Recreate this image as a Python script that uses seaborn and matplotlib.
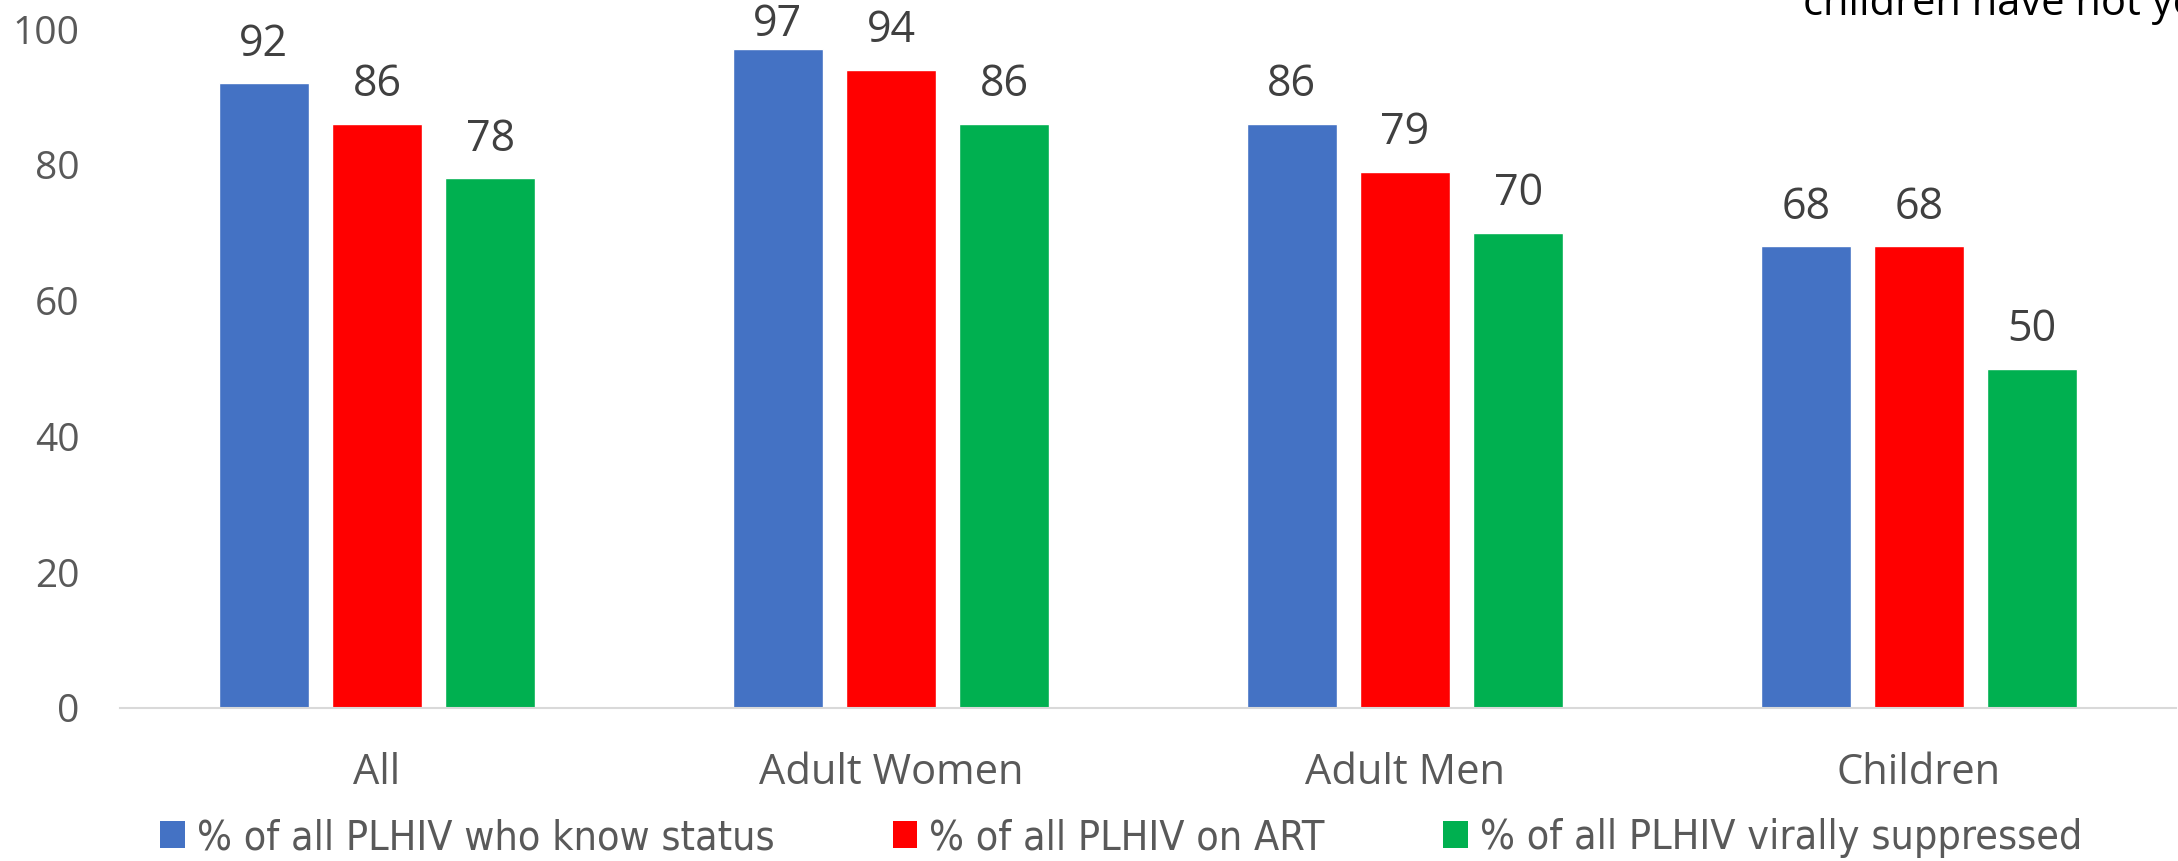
import matplotlib
matplotlib.use("Agg")
import matplotlib.pyplot as plt
from matplotlib.patches import Patch
import seaborn as sns
import pandas as pd

groups = ["All", "Adult Women", "Adult Men", "Children"]
series = ["% of all PLHIV who know status", "% of all PLHIV on ART", "% of all PLHIV virally suppressed"]
know_status = [92, 97, 86, 68]
on_art = [86, 94, 79, 68]
suppressed = [78, 86, 70, 50]
colors = ["#4472C4", "#FF0000", "#00B050"]
yticks = [0, 20, 40, 60, 80, 100]

sns.set_theme(style="white")
plt.rcParams['font.family'] = ['Open Sans', 'DejaVu Sans']

df = pd.DataFrame({
  "group": groups * 3,
  "series": [series[0]] * 4 + [series[1]] * 4 + [series[2]] * 4,
  "value": know_status + on_art + suppressed,
})

W, H = 2178, 861
fig = plt.figure(figsize=(W / 100, H / 100), dpi=100)
ax = fig.add_axes([120 / W, 1 - 708 / H, 2056 / W, (708 - 29) / H])

sns.barplot(data=df, x="group", y="value", hue="series", order=groups, hue_order=series,
            palette=colors, width=0.66, gap=0.21, errorbar=None, legend=False, ax=ax,
            saturation=1)

for c in ax.containers:
  labels = ax.bar_label(c, padding=12, fontsize=31, color="#404040")
  for lbl, v in zip(labels, c.datavalues):
    # label would run off the top, Excel pulls it down onto the bar
    if v > 95:
      lbl.xyann = (0, 2)

ax.set_xlim(-0.5, 3.5)
ax.set_ylim(0, 100)
ax.set_yticks(yticks)
ax.set_xlabel("")
ax.set_ylabel("")
for s in ["top", "right", "left"]:
  ax.spines[s].set_visible(False)
ax.spines["bottom"].set_color("#D9D9D9")
ax.spines["bottom"].set_linewidth(1.5)
ax.tick_params(axis="y", length=0, pad=29, labelsize=28, labelcolor="#595959")
ax.tick_params(axis="x", length=0, pad=32, labelsize=30, labelcolor="#595959")

handles = [Patch(facecolor=col, edgecolor="none") for col in colors]
fig.legend(handles, series, loc="center left", bbox_to_anchor=(160 / W, 1 - 838 / H),
           ncol=3, frameon=False, borderpad=0, borderaxespad=0,
           handlelength=0.61, handleheight=0.61, handletextpad=0.29, columnspacing=2.88,
           prop={"family": ["DejaVu Sans"], "stretch": "condensed", "size": 29.5},
           labelcolor="#595959")

fig.text(1803 / W, 1 - 15 / H, "children have not yet", fontsize=30, color="black", va="baseline")

fig.savefig("out.png", dpi=100)
